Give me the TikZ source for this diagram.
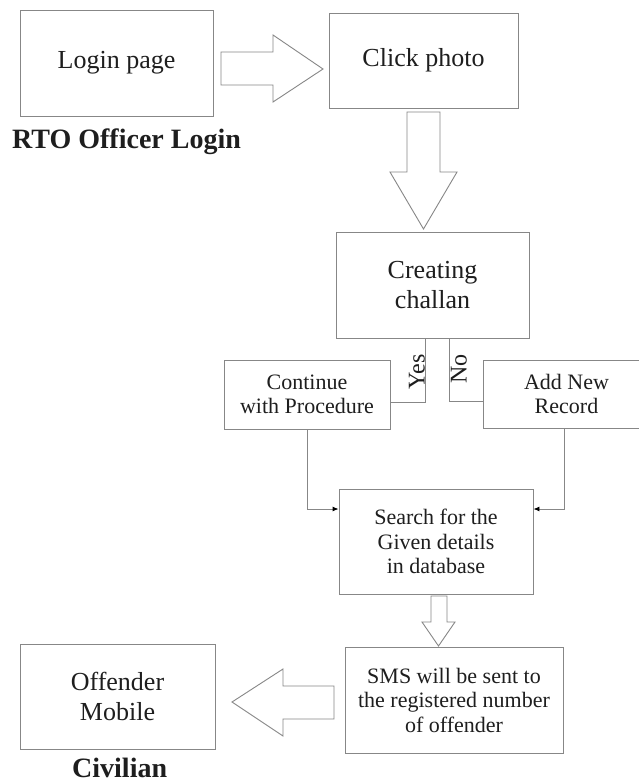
\documentclass[tikz,border=0pt]{standalone}
\usepackage{fontspec}
\setmainfont{Liberation Serif}
\usetikzlibrary{arrows.meta}
\definecolor{lineg}{RGB}{135,135,135}
\definecolor{txt}{RGB}{30,30,30}
\tikzset{
  box/.style={draw=lineg, line width=0.9pt, rectangle, inner sep=0pt, align=center, text=txt},
  bigtxt/.style={font=\fontsize{26}{30}\selectfont},
  smalltxt/.style={font=\fontsize{22}{24.5}\selectfont},
  blockarrow/.style={draw=lineg, line width=0.9pt, fill=white, line join=miter},
  conn/.style={draw=lineg, line width=0.9pt},
  connarrow/.style={conn, -{Latex[length=6pt,width=5pt,color=black]}},
  yn/.style={font=\fontsize{24}{24}\selectfont, text=txt, rotate=90, inner sep=0pt},
  caption/.style={font=\bfseries\fontsize{28}{28}\selectfont, text=txt, inner sep=0pt}
}
\begin{document}
\begin{tikzpicture}[x=1pt,y=-1pt]
\useasboundingbox (0,0) rectangle (639,784);
\begin{scope}
\clip (0,0) rectangle (639,784);
\fill[white] (0,0) rectangle (639,784);

% boxes
\node[box, bigtxt, minimum width=193pt, minimum height=106pt] (login) at (116.5,63) {Login page};
\node[box, bigtxt, minimum width=189pt, minimum height=95pt] (click) at (423.5,60.5) {Click photo};
\node[box, bigtxt, minimum width=193pt, minimum height=106pt] (create) at (432.5,285) {Creating\\challan};
\node[box, smalltxt, minimum width=166pt, minimum height=69pt] (cont) at (307,394.5) {Continue\\with Procedure};
\node[box, smalltxt, minimum width=167pt, minimum height=68pt] (addrec) at (566.5,394) {Add New\\Record};
\node[box, smalltxt, minimum width=194pt, minimum height=105pt] (search) at (436,541.5) {Search for the\\Given details\\in database};
\node[box, smalltxt, minimum width=218pt, minimum height=106pt] (sms) at (454,700) {SMS will be sent to\\the registered number\\of offender};
\node[box, bigtxt, minimum width=195pt, minimum height=105pt] (offender) at (117.5,696.5) {Offender\\Mobile};

% captions
\node[caption, anchor=base west] (rto) at (12,148) {RTO Officer Login};
\node[caption, anchor=base west] (civ) at (72,777) {Civilian};

% block arrows
\draw[blockarrow] (221,52) -- (273,52) -- (273,35) -- (323,69) -- (273,102) -- (273,85) -- (221,85) -- cycle;
\draw[blockarrow] (407,112) -- (440,112) -- (440,172) -- (457,172) -- (423.5,229) -- (390,172) -- (407,172) -- cycle;
\draw[blockarrow] (431,596) -- (447,596) -- (447,622) -- (455,622) -- (438.5,646) -- (422,622) -- (431,622) -- cycle;
\draw[blockarrow] (334,686) -- (283,686) -- (283,669) -- (232,702) -- (283,736) -- (283,719) -- (334,719) -- cycle;

% yes / no connectors
\coordinate (yb) at (425,402);
\coordinate (nb) at (449.5,401);
\draw[conn] (create.south -| yb) |- (cont.east |- yb);
\draw[conn] (create.south -| nb) |- (addrec.west |- nb);
\node[yn] (yes) at (417,372) {Yes};
\node[yn] (no) at (459,369) {No};

% to search
\coordinate (lj) at (307,509);
\coordinate (rj) at (564,509);
\draw[connarrow] (cont.south -| lj) |- (search.west |- lj);
\draw[connarrow] (addrec.south -| rj) |- (search.east |- rj);
\end{scope}
\end{tikzpicture}
\end{document}
